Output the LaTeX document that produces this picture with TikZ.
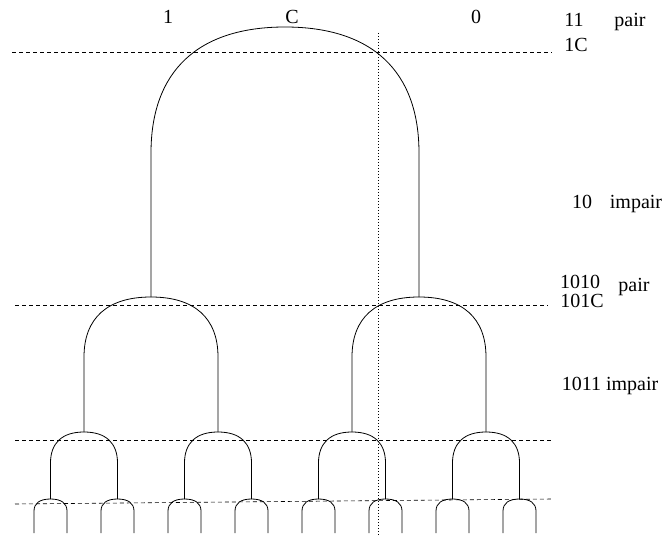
\documentclass[tikz,border=0pt]{standalone}
\usepackage{fontspec}
\setmainfont{Liberation Serif}
\begin{document}
\begin{tikzpicture}[x=1pt,y=-1pt,
  archline/.style={line width=0.8pt},
  guide/.style={line width=0.6pt, dash pattern=on 4pt off 3pt},
  vguide/.style={line width=0.6pt, dash pattern=on 1pt off 2pt},
  lbl/.style={inner sep=0pt, anchor=base, font=\fontsize{20}{22}\selectfont}]
\useasboundingbox (0,0) rectangle (669,537);
% arch macro: center x, top y, half width, curve height, leg bottom
\newcommand\myarch[5]{%
  \draw[archline] ({#1-#3},#5) -- ({#1-#3},{#2+#4})
    .. controls ({#1-#3},{#2+0.35*#4}) and ({#1-0.65*#3},#2) .. (#1,#2)
    .. controls ({#1+0.65*#3},#2) and ({#1+#3},{#2+0.35*#4}) .. ({#1+#3},{#2+#4})
    -- ({#1+#3},#5);}
% guides
\coordinate (g1a) at (12,52);  \coordinate (g1b) at (552,52);
\coordinate (g2a) at (15,305); \coordinate (g2b) at (548,305);
\coordinate (g3a) at (15,440); \coordinate (g3b) at (553,440);
\coordinate (g4a) at (15,504); \coordinate (g4b) at (553,499);
\coordinate (va) at (378,33);  \coordinate (vb) at (378,537);
\draw[guide] (g1a) -- (g1b);
\draw[guide] (g2a) -- (g2b);
\draw[guide] (g3a) -- (g3b);
\draw[guide] (g4a) -- (g4b);
\draw[vguide] (va) -- (vb);
% tree
\myarch{285}{27}{134}{126}{297}
\foreach \c in {151,419} {\myarch{\c}{297}{67}{60}{432}}
\foreach \c in {84,218,352,486} {\myarch{\c}{432}{33.5}{31}{499}}
\foreach \c in {50.5,117.5,184.5,251.5,318.5,385.5,452.5,519.5} {\myarch{\c}{499}{16.5}{12}{533}}
% labels (positioned at baseline)
\node[lbl] (t1) at (168,24) {1};
\node[lbl] (tC) at (292,24) {C};
\node[lbl] (t0) at (476,24) {0};
\node[lbl] (l11) at (574,27) {11};
\node[lbl] (p1) at (630,27) {pair};
\node[lbl] (l1C) at (576,52) {1C};
\node[lbl] (l10) at (582,209) {10};
\node[lbl] (i1) at (636,209) {impair};
\node[lbl] (l1010) at (580,289) {1010};
\node[lbl] (p2) at (634,291) {pair};
\node[lbl] (l101C) at (582,307) {101C};
\node[lbl] (l1011) at (610,390) {1011 impair};
\end{tikzpicture}
\end{document}
